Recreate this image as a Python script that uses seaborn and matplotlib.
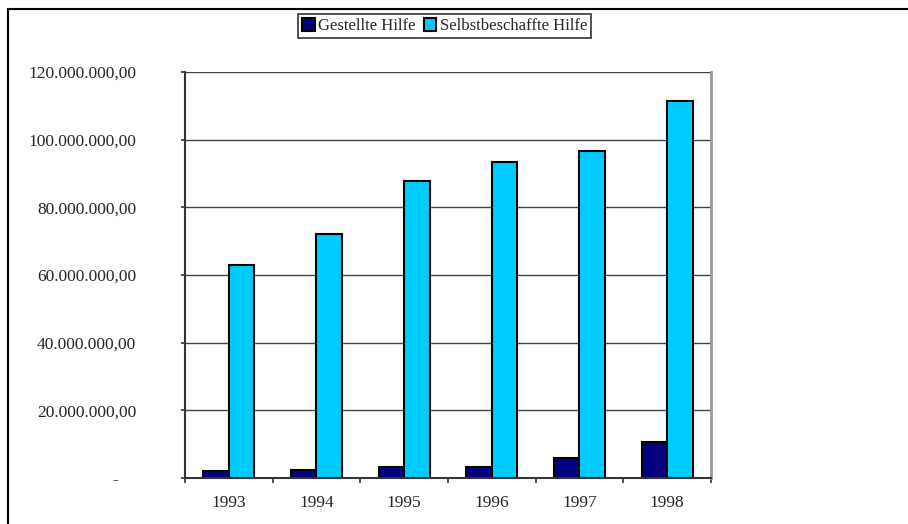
import pandas as pd
import numpy as np
import matplotlib.pyplot as plt
import seaborn as sns
from matplotlib.lines import Line2D
from matplotlib.ticker import FuncFormatter, FixedLocator

# Werte
jahre = ["1993", "1994", "1995", "1996", "1997", "1998"]
gestellt = [2.0e6, 2.4e6, 3.3e6, 3.2e6, 5.9e6, 10.5e6]
selbst = [63.0e6, 72.0e6, 87.7e6, 93.3e6, 96.7e6, 111.3e6]
serien = ["Gestellte Hilfe", "Selbstbeschaffte Hilfe"]
farben = ["#000080", "#00CCFF"]

df = pd.DataFrame({
    "Jahr": jahre * 2,
    "Wert": gestellt + selbst,
    "Serie": [serien[0]] * len(jahre) + [serien[1]] * len(jahre),
})

sns.set_style("white")
plt.rcParams["font.family"] = ["Liberation Serif", "DejaVu Serif"]

fig = plt.figure(figsize=(9.08, 5.24), dpi=100)
ax = fig.add_axes([0.2037, 0.0878, 0.5793, 0.7748])

sns.barplot(data=df, x="Jahr", y="Wert", hue="Serie", palette=farben,
            width=0.58, gap=0, edgecolor="black", linewidth=1.5,
            saturation=1, ax=ax, legend=True)

ax.set_ylim(0, 120e6)
ax.set_xlim(-0.5, len(jahre) - 0.5)
ax.set_yticks(np.arange(0, 120e6 + 1, 20e6))


def de_fmt(v, pos):
    # Buchhaltungsformat: Null als Strich, etwas eingerückt
    if v == 0:
        return "-\u00a0\u00a0\u00a0\u00a0"
    s = f"{v:,.2f}"
    return s.replace(",", "X").replace(".", ",").replace("X", ".")


ax.yaxis.set_major_formatter(FuncFormatter(de_fmt))
ax.yaxis.grid(True, color="#444444", linewidth=1)
ax.set_axisbelow(True)

ax.xaxis.set_minor_locator(FixedLocator(np.arange(-0.5, len(jahre), 1)))
ax.tick_params(axis="x", which="major", length=0, pad=12, labelsize=12.5)
ax.tick_params(axis="x", which="minor", length=3.5, width=1.2, color="#333333",
               direction="out", bottom=True)
ax.tick_params(axis="y", length=3, width=1.2, color="#333333", direction="out",
               left=True, pad=32, labelsize=12.5)

ax.set_xlabel("")
ax.set_ylabel("")

for side in ["left", "bottom"]:
    ax.spines[side].set_color("#333333")
    ax.spines[side].set_linewidth(1.5)
ax.spines["right"].set_color("#999999")
ax.spines["right"].set_linewidth(2)
ax.spines["top"].set_visible(False)

handles, labels = ax.get_legend_handles_labels()
ax.get_legend().remove()
leg = fig.legend(handles, labels, loc="upper center", bbox_to_anchor=(0.4895, 0.973),
                 ncol=2, frameon=True, fancybox=False, edgecolor="black",
                 fontsize=12, handlelength=0.75, handleheight=0.75,
                 handletextpad=0.2, columnspacing=0.5, borderpad=0.25,
                 borderaxespad=0)
leg.get_frame().set_linewidth(1.2)

# Rahmen oben und links
fig.add_artist(Line2D([8 / 908, 1], [1 - 9 / 524, 1 - 9 / 524],
                      transform=fig.transFigure, color="black", linewidth=1.5))
fig.add_artist(Line2D([8 / 908, 8 / 908], [0, 1 - 9 / 524],
                      transform=fig.transFigure, color="black", linewidth=1.5))

fig.savefig("out.png", dpi=100)
